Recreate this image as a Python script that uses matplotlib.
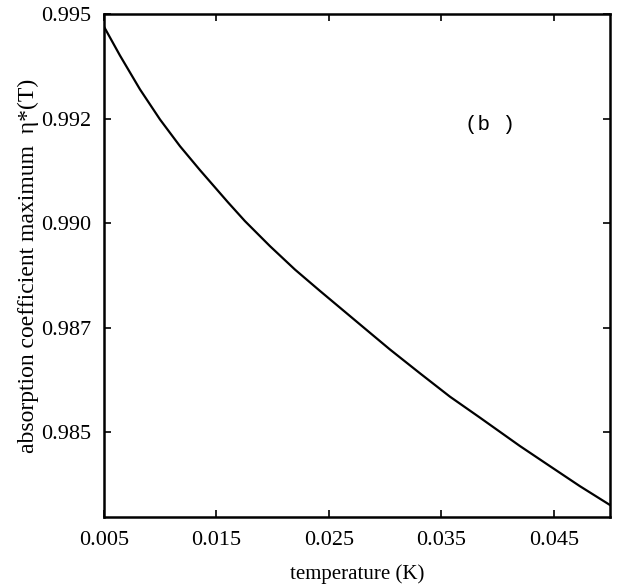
import numpy as np
import matplotlib
matplotlib.use('Agg')
import matplotlib.pyplot as plt

# values
temperature = [0.00500, 0.00642, 0.00820, 0.00998, 0.01176, 0.01353, 0.01602,
               0.01753, 0.01976, 0.02198, 0.02420, 0.02642, 0.02864, 0.03042,
               0.03309, 0.03576, 0.03842, 0.04020, 0.04198, 0.04464, 0.04731,
               0.04998]
eta_max = [0.99470, 0.99401, 0.99320, 0.99248, 0.99184, 0.99127, 0.99050,
           0.99005, 0.98945, 0.98889, 0.98838, 0.98788, 0.98738, 0.98698,
           0.98641, 0.98585, 0.98535, 0.98501, 0.98467, 0.98419, 0.98371,
           0.98326]

xticks = [0.005, 0.015, 0.025, 0.035, 0.045]
xtick_labels = ['0.005', '0.015', '0.025', '0.035', '0.045']
yticks = [0.995, 0.9925, 0.990, 0.9875, 0.985]
ytick_labels = ['0.995', '0.992', '0.990', '0.987', '0.985']

plt.rcParams['font.family'] = ['Liberation Serif', 'DejaVu Serif']

fig = plt.figure(figsize=(6.19, 5.88), dpi=100)
ax = fig.add_axes([0.168, 0.1207, 0.8175, 0.8553])

ax.plot(temperature, eta_max, color='black', linewidth=1.6)

ax.set_xlim(0.005, 0.05)
ax.set_ylim(0.98297, 0.995)
ax.set_xticks(xticks)
ax.set_xticklabels(xtick_labels)
ax.set_yticks(yticks)
ax.set_yticklabels(ytick_labels)
ax.tick_params(direction='in', top=True, right=True, length=5, width=1.2,
               labelsize=16)
ax.tick_params(axis='x', pad=10)
ax.tick_params(axis='y', pad=9)
for s in ax.spines.values():
    s.set_linewidth(1.8)

ax.set_xlabel('temperature (K)', fontsize=15, labelpad=10)
ax.set_ylabel('absorption coefficient maximum  η*(T)', fontsize=17, labelpad=2)

ax.text(0.0393, 0.99235, '(b )', family='Liberation Mono', fontsize=15,
        ha='center', va='center')

fig.savefig('out.png', dpi=100)
